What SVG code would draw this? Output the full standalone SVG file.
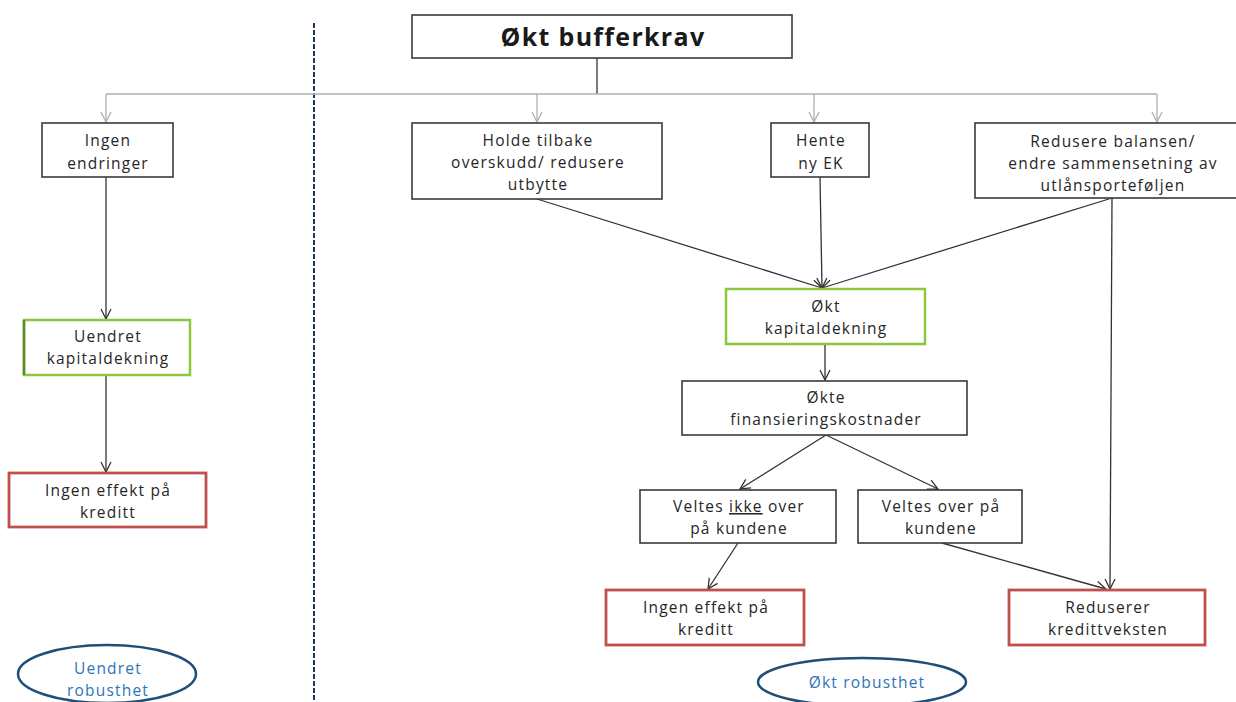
<svg xmlns="http://www.w3.org/2000/svg" width="1236" height="702" viewBox="0 0 1236 702">
<style>
  .bx { fill: #ffffff; stroke: #3a3a3a; stroke-width: 1.6; }
  .gr { fill: #ffffff; stroke: #8dc63f; stroke-width: 2.5; }
  .rd { fill: #ffffff; stroke: #c0504d; stroke-width: 2.8; }
  .el { fill: #ffffff; stroke: #1f4e79; stroke-width: 2.5; }
  .t { font-family: "Open Sans", "Liberation Sans", sans-serif; font-size: 15.5px; fill: #262626; text-anchor: middle; letter-spacing: 1.2px; }
  .tb { font-family: "Open Sans", "Liberation Sans", sans-serif; font-size: 25px; font-weight: bold; fill: #1a1a1a; text-anchor: middle; letter-spacing: 1.3px; }
  .tbl { font-family: "Open Sans", "Liberation Sans", sans-serif; font-size: 15.5px; fill: #2e74b5; text-anchor: middle; letter-spacing: 1.2px; }
  .ln { fill: none; stroke: #333333; stroke-width: 1.3; }
  .lg { fill: none; stroke: #b0b0b0; stroke-width: 1.3; }
</style>
<defs>
  <marker id="ad" viewBox="0 0 12 12" refX="11" refY="6" markerWidth="12" markerHeight="12" markerUnits="userSpaceOnUse" orient="auto">
    <path d="M1,1 L11,6 L1,11" fill="none" stroke="#333333" stroke-width="1.3"/>
  </marker>
  <marker id="ag" viewBox="0 0 12 12" refX="11" refY="6" markerWidth="12" markerHeight="12" markerUnits="userSpaceOnUse" orient="auto">
    <path d="M1,1 L11,6 L1,11" fill="none" stroke="#b0b0b0" stroke-width="1.3"/>
  </marker>
</defs>
<rect width="1236" height="702" fill="#ffffff"/>

<g id="divider">
  <line x1="314" y1="23" x2="314" y2="702" stroke="#1f3864" stroke-width="2" stroke-dasharray="5,2"/>
</g>

<g id="connectors">
  <line class="ln" x1="597" y1="58" x2="597" y2="94"/>
  <line class="lg" x1="106" y1="94" x2="1157" y2="94"/>
  <line class="lg" x1="106" y1="94" x2="106" y2="122" marker-end="url(#ag)"/>
  <line class="lg" x1="537" y1="94" x2="537" y2="122" marker-end="url(#ag)"/>
  <line class="lg" x1="814" y1="94" x2="814" y2="122" marker-end="url(#ag)"/>
  <line class="lg" x1="1157" y1="94" x2="1157" y2="122" marker-end="url(#ag)"/>
  <line class="ln" x1="106" y1="177" x2="106" y2="319" marker-end="url(#ad)"/>
  <line class="ln" x1="106" y1="375" x2="106" y2="472" marker-end="url(#ad)"/>
  <line class="ln" x1="537" y1="199" x2="822" y2="288" marker-end="url(#ad)"/>
  <line class="ln" x1="820" y1="177" x2="822" y2="288" marker-end="url(#ad)"/>
  <line class="ln" x1="1112" y1="198" x2="822" y2="288" marker-end="url(#ad)"/>
  <line class="ln" x1="1112" y1="198" x2="1110" y2="589" marker-end="url(#ad)"/>
  <line class="ln" x1="825" y1="344" x2="825" y2="380" marker-end="url(#ad)"/>
  <line class="ln" x1="826" y1="435" x2="740" y2="489" marker-end="url(#ad)"/>
  <line class="ln" x1="826" y1="435" x2="938" y2="489" marker-end="url(#ad)"/>
  <line class="ln" x1="738" y1="543" x2="708" y2="589" marker-end="url(#ad)"/>
  <line class="ln" x1="942" y1="543" x2="1106" y2="589" marker-end="url(#ad)"/>
</g>

<g id="n-top">
  <rect class="bx" x="412" y="15" width="380" height="43"/>
  <text class="tb" x="603" y="46">Økt bufferkrav</text>
</g>

<g id="n-ingen-endringer">
  <rect class="bx" x="42" y="123" width="131" height="54"/>
  <text class="t" x="108" y="146">Ingen</text>
  <text class="t" x="108" y="169">endringer</text>
</g>

<g id="n-holde">
  <rect class="bx" x="412" y="123" width="250" height="76"/>
  <text class="t" x="538" y="146">Holde tilbake</text>
  <text class="t" x="538" y="168">overskudd/ redusere</text>
  <text class="t" x="538" y="190">utbytte</text>
</g>

<g id="n-hente">
  <rect class="bx" x="771" y="123" width="98" height="54"/>
  <text class="t" x="821" y="146">Hente</text>
  <text class="t" x="821" y="169">ny EK</text>
</g>

<g id="n-redusere">
  <rect class="bx" x="975" y="123" width="275" height="75"/>
  <text class="t" x="1113" y="147">Redusere balansen/</text>
  <text class="t" x="1113" y="169">endre sammensetning av</text>
  <text class="t" x="1113" y="191">utlånsporteføljen</text>
</g>

<g id="n-uendret-kap">
  <rect class="gr" x="24" y="320" width="166" height="55"/>
  <line x1="24" y1="320" x2="24" y2="375" stroke="#5a8a2a" stroke-width="2.5"/>
  <text class="t" x="108" y="342">Uendret</text>
  <text class="t" x="108" y="364">kapitaldekning</text>
</g>

<g id="n-ingen-effekt-left">
  <rect class="rd" x="9" y="473" width="197" height="54"/>
  <text class="t" x="108" y="496">Ingen effekt på</text>
  <text class="t" x="108" y="518">kreditt</text>
</g>

<g id="n-okt-kap">
  <rect class="gr" x="726" y="289" width="199" height="55"/>
  <text class="t" x="826" y="312">Økt</text>
  <text class="t" x="826" y="334">kapitaldekning</text>
</g>

<g id="n-okte-fin">
  <rect class="bx" x="682" y="381" width="285" height="54"/>
  <text class="t" x="826" y="403">Økte</text>
  <text class="t" x="826" y="425">finansieringskostnader</text>
</g>

<g id="n-veltes-ikke">
  <rect class="bx" x="640" y="490" width="196" height="53"/>
  <text class="t" x="739" y="512">Veltes <tspan text-decoration="underline">ikke</tspan> over</text>
  <text class="t" x="739" y="534">på kundene</text>
</g>

<g id="n-veltes-over">
  <rect class="bx" x="858" y="490" width="164" height="53"/>
  <text class="t" x="941" y="512">Veltes over på</text>
  <text class="t" x="941" y="534">kundene</text>
</g>

<g id="n-ingen-effekt-right">
  <rect class="rd" x="606" y="590" width="198" height="55"/>
  <text class="t" x="706" y="613">Ingen effekt på</text>
  <text class="t" x="706" y="635">kreditt</text>
</g>

<g id="n-reduserer">
  <rect class="rd" x="1009" y="590" width="196" height="55"/>
  <text class="t" x="1108" y="613">Reduserer</text>
  <text class="t" x="1108" y="635">kredittveksten</text>
</g>

<g id="n-uendret-rob">
  <ellipse class="el" cx="107" cy="674" rx="89" ry="29"/>
  <text class="tbl" x="108" y="674">Uendret</text>
  <text class="tbl" x="108" y="696">robusthet</text>
</g>

<g id="n-okt-rob">
  <ellipse class="el" cx="862" cy="682" rx="104" ry="24"/>
  <text class="tbl" x="867" y="688">Økt robusthet</text>
</g>
</svg>
